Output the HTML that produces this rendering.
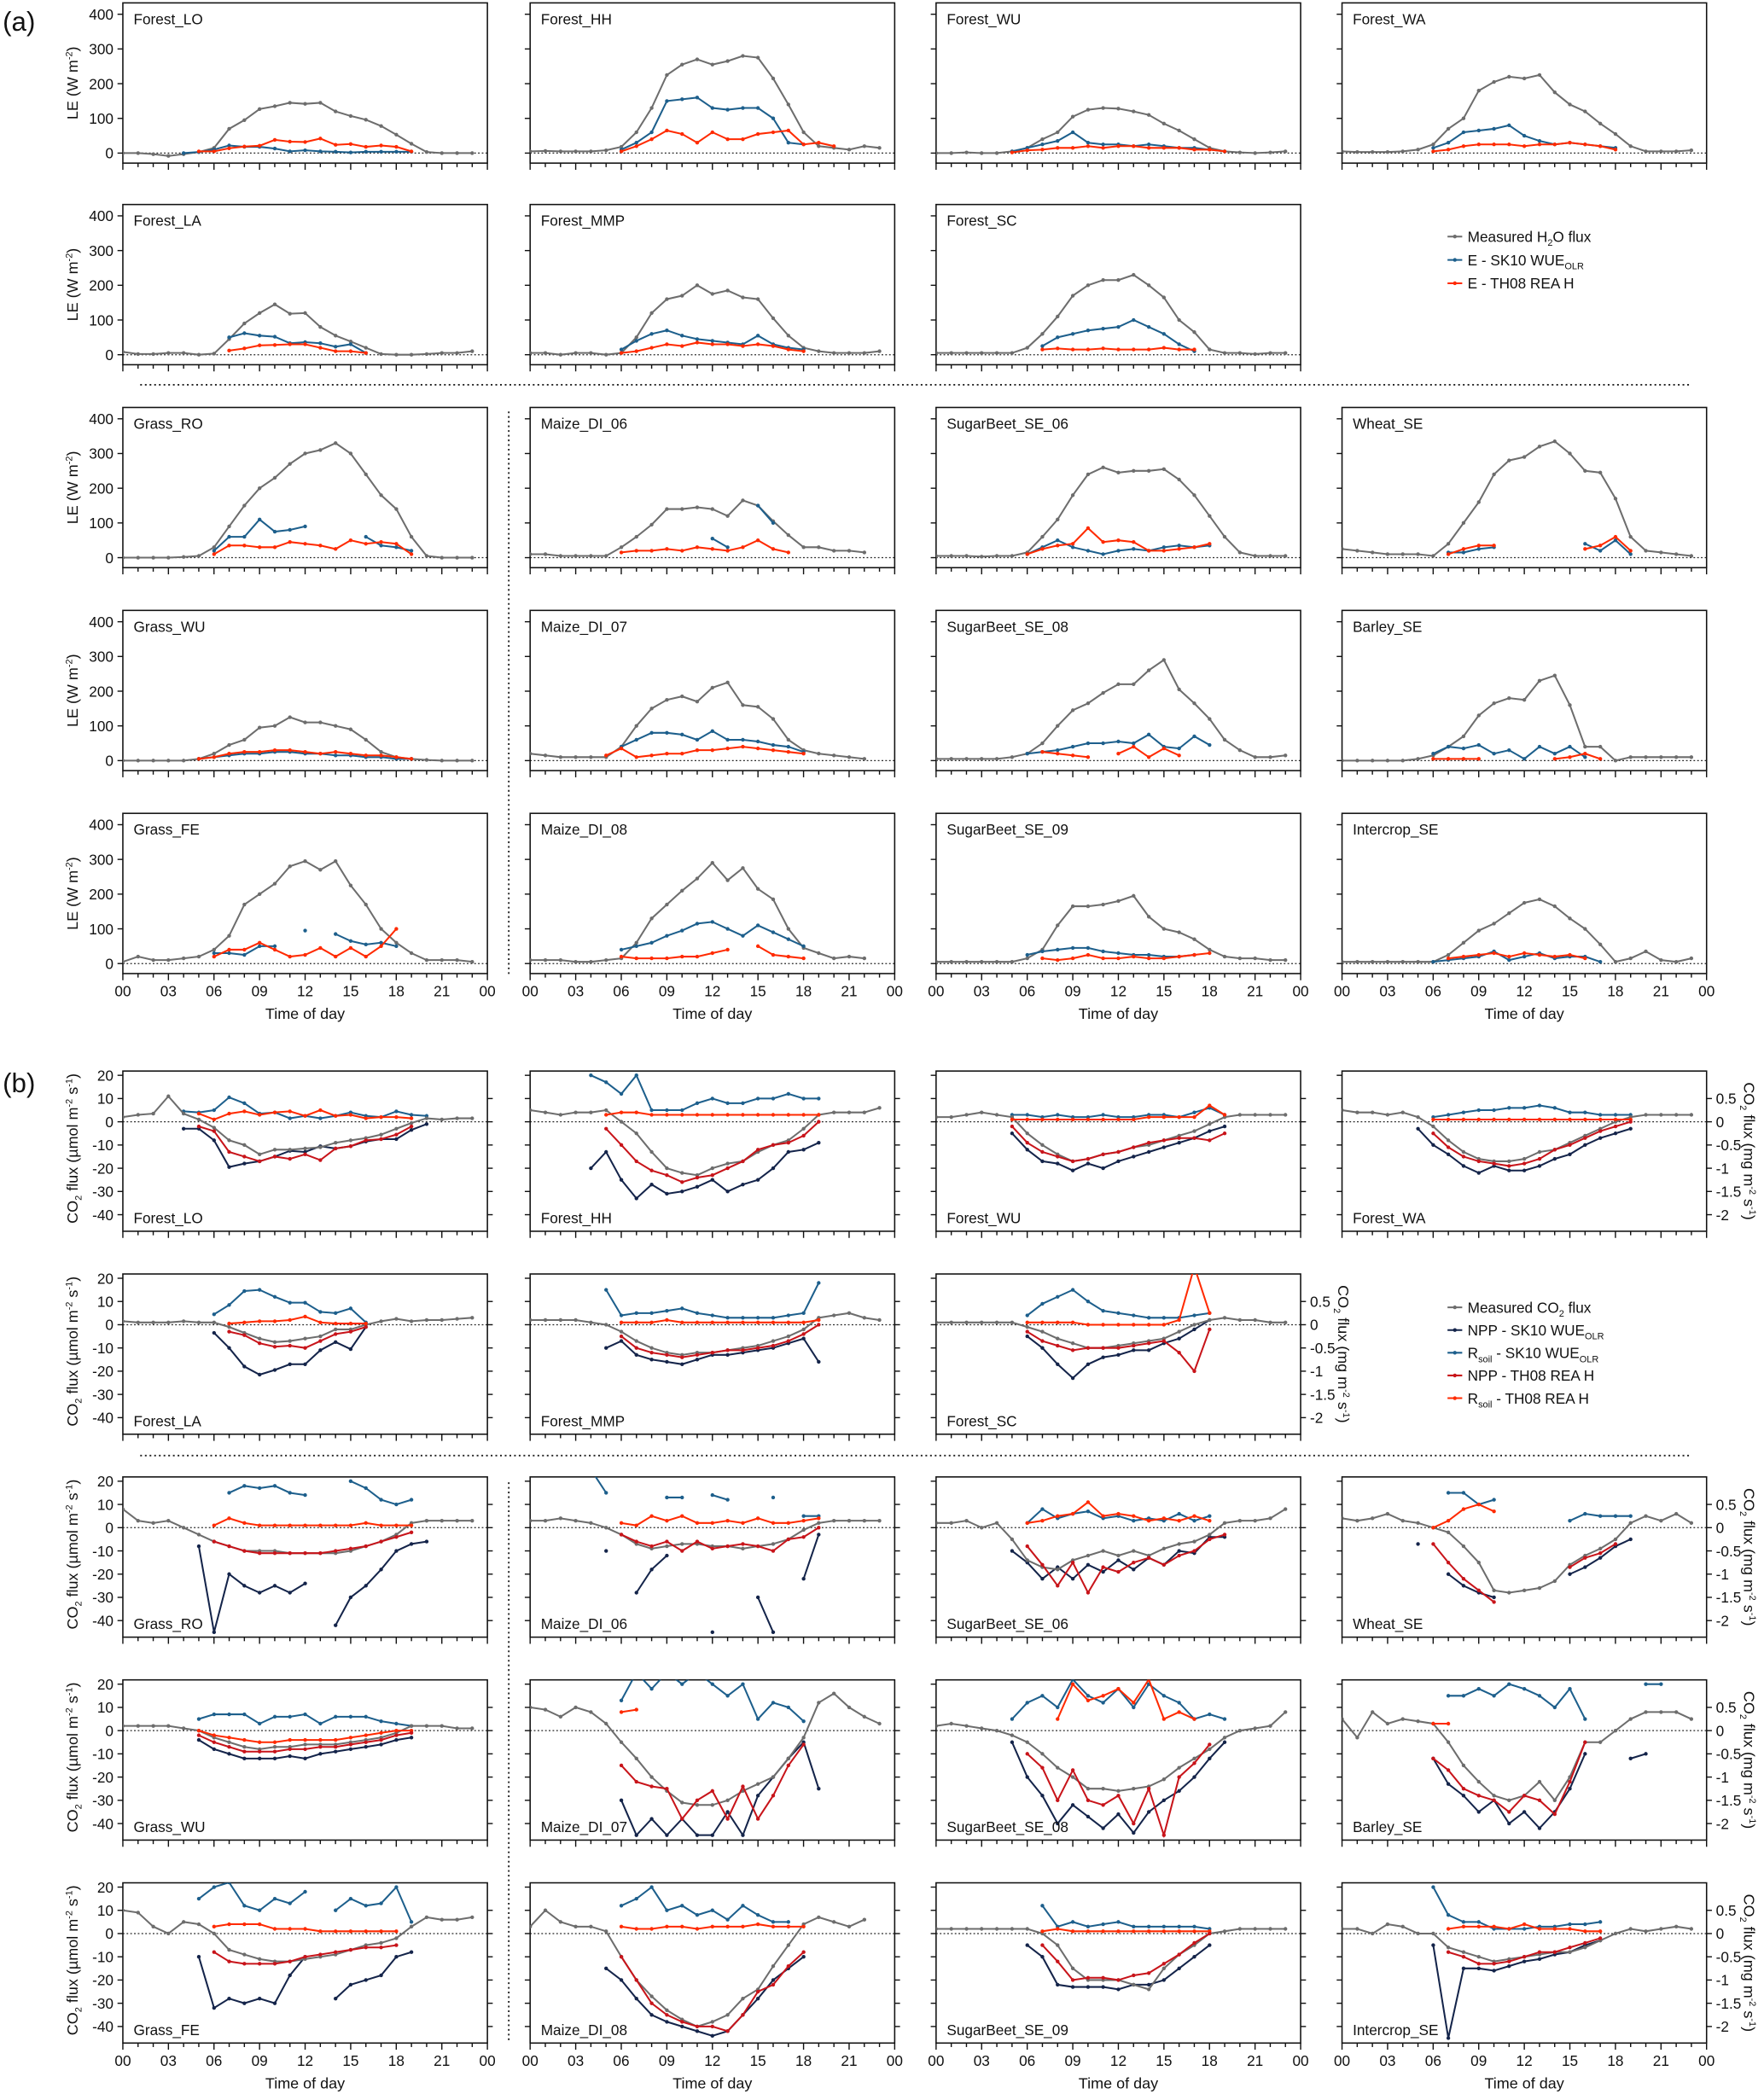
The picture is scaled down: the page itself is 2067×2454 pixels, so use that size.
<!DOCTYPE html>
<html><head><meta charset="utf-8">
<style>
html,body{margin:0;padding:0;background:#fff;}
svg{display:block;font-family:"Liberation Sans",Arial,sans-serif;}
</style></head>
<body>
<svg id="fig" xmlns="http://www.w3.org/2000/svg" width="2067" height="2454" viewBox="0 0 1321 1568">
<rect x="0" y="0" width="1321" height="1568" fill="#fff"/>
</svg>
<script>
const _ = null;
const hourTicks = ["00","03","06","09","12","15","18","21","00"];
const leTicks = [0,100,200,300,400];
const co2Ticks = [20,10,0,-10,-20,-30,-40];
const mgTicks = [0.5,0,-0.5,-1,-1.5,-2];

// ---------- (a) LE data: hourly values 00..23 ----------
const LO_a_meas=[0,0,-3,-8,-3,3,15,70,95,127,135,145,142,145,120,107,96,78,53,27,3,0,0,0];
const LO_a_sk=[_,_,_,_,0,3,10,22,18,18,13,5,8,5,4,2,4,4,4,4,_,_,_,_];
const LO_a_th=[_,_,_,_,_,5,5,14,19,21,38,33,32,42,24,26,18,22,18,5,_,_,_,_];
const HH_a_meas=[5,6,5,5,5,8,18,60,130,225,255,270,255,265,280,275,215,140,60,20,15,10,20,15];
const HH_a_sk=[_,_,_,_,_,_,10,30,60,150,155,160,130,125,130,130,100,30,25,_,_,_,_,_];
const HH_a_th=[_,_,_,_,_,_,5,20,40,65,55,30,60,40,40,55,60,65,25,30,20,_,_,_];
const WU_a_meas=[0,0,2,0,0,5,15,40,60,105,125,130,128,120,110,85,65,40,15,5,2,0,2,5];
const WU_a_sk=[_,_,_,_,_,5,15,25,35,60,30,25,25,20,25,20,15,15,10,5,_,_,_,_];
const WU_a_th=[_,_,_,_,_,2,8,10,15,15,20,15,20,20,15,15,15,10,10,5,_,_,_,_];
const WA_a_meas=[5,3,3,3,5,10,25,70,100,180,205,220,215,225,175,140,120,85,55,20,5,5,5,8];
const WA_a_sk=[_,_,_,_,_,_,15,30,60,65,70,80,50,35,25,30,25,20,15,_,_,_,_,_];
const WA_a_th=[_,_,_,_,_,_,5,10,20,25,25,25,20,25,25,30,25,20,10,_,_,_,_,_];
const LA_a_meas=[8,2,2,5,5,0,3,45,90,120,145,118,120,80,55,38,20,2,0,0,2,5,5,10];
const LA_a_sk=[_,_,_,_,_,_,_,50,62,55,52,33,36,33,23,30,5,_,_,_,_,_,_,_];
const LA_a_th=[_,_,_,_,_,_,_,12,18,27,28,30,30,20,10,10,5,_,_,_,_,_,_,_];
const MMP_a_meas=[5,5,0,5,5,0,5,50,120,160,170,200,175,185,165,160,105,55,20,10,5,5,5,10];
const MMP_a_sk=[_,_,_,_,_,_,15,40,60,70,55,45,40,35,30,55,30,20,15,_,_,_,_,_];
const MMP_a_th=[_,_,_,_,_,_,5,10,20,30,25,35,30,30,25,30,25,15,10,_,_,_,_,_];
const SC_a_meas=[5,5,5,5,5,5,20,60,110,170,200,215,215,230,200,165,100,65,15,5,5,2,5,5];
const SC_a_sk=[_,_,_,_,_,_,_,25,50,60,70,75,80,100,80,60,30,10,_,_,_,_,_,_];
const SC_a_th=[_,_,_,_,_,_,_,15,18,15,15,18,15,15,15,20,15,15,_,_,_,_,_,_];
const GRO_a_meas=[0,0,0,0,2,5,30,90,150,200,230,270,300,310,330,300,240,180,140,60,5,0,0,0];
const GRO_a_sk=[_,_,_,_,_,_,20,60,60,110,75,80,90,_,_,_,60,35,30,20,_,_,_,_];
const GRO_a_th=[_,_,_,_,_,_,10,35,35,30,30,45,40,35,25,50,40,45,40,10,_,_,_,_];
const M06_a_meas=[10,10,5,5,5,5,30,60,95,140,140,145,140,120,165,150,105,65,30,30,20,20,15,_];
const M06_a_sk=[_,_,_,_,_,_,_,_,_,_,_,_,55,30,_,150,100,_,_,_,_,_,_,_];
const M06_a_th=[_,_,_,_,_,_,15,20,20,25,20,30,25,20,30,50,25,15,_,_,_,_,_,_];
const S06_a_meas=[5,5,5,3,5,5,15,60,110,180,240,260,245,250,250,255,225,180,120,60,15,5,5,5];
const S06_a_sk=[_,_,_,_,_,_,10,30,50,30,20,10,20,25,20,30,35,30,35,_,_,_,_,_];
const S06_a_th=[_,_,_,_,_,_,10,25,35,40,85,45,50,45,20,20,25,30,40,_,_,_,_,_];
const WH_a_meas=[25,20,15,10,10,10,5,40,100,160,240,280,290,320,335,300,250,245,170,60,20,15,10,5];
const WH_a_sk=[_,_,_,_,_,_,_,15,15,25,30,_,_,_,_,_,40,20,50,10,_,_,_,_];
const WH_a_th=[_,_,_,_,_,_,_,10,25,35,35,_,_,_,_,_,25,35,60,20,_,_,_,_];
const GWU_a_meas=[0,0,0,0,0,5,20,45,60,95,100,125,110,110,100,90,60,25,10,5,2,0,0,0];
const GWU_a_sk=[_,_,_,_,_,5,10,15,20,20,25,25,20,20,15,15,10,10,5,5,_,_,_,_];
const GWU_a_th=[_,_,_,_,_,5,10,20,25,25,30,30,25,20,25,20,15,15,10,5,_,_,_,_];
const M07_a_meas=[20,15,10,10,10,10,40,100,150,175,185,170,210,225,160,155,120,60,30,20,15,10,5,_];
const M07_a_sk=[_,_,_,_,_,_,40,60,80,80,75,60,85,60,60,55,45,40,25,_,_,_,_,_];
const M07_a_th=[_,_,_,_,_,15,35,10,15,20,20,30,30,35,40,35,30,25,20,_,_,_,_,_];
const S08_a_meas=[5,5,5,5,5,10,20,50,100,145,165,195,220,220,260,290,205,165,120,60,30,10,10,15];
const S08_a_sk=[_,_,_,_,_,_,20,25,30,40,50,50,55,50,75,40,35,70,45,_,_,_,_,_];
const S08_a_th=[_,_,_,_,_,_,_,25,20,15,10,_,20,40,10,35,15,_,_,_,_,_,_,_];
const BA_a_meas=[0,0,0,0,0,5,15,40,70,130,165,180,175,230,245,160,40,40,0,10,10,10,10,10];
const BA_a_sk=[_,_,_,_,_,_,20,40,35,45,20,30,5,40,20,40,10,_,_,_,_,_,_,_];
const BA_a_th=[_,_,_,_,_,_,5,5,5,5,_,_,_,_,5,10,20,5,_,_,_,_,_,_];
const GFE_a_meas=[5,20,10,10,15,20,40,80,170,200,230,280,295,270,295,225,170,100,60,30,10,10,10,5];
const GFE_a_sk=[_,_,_,_,_,_,30,30,25,50,50,_,95,_,85,65,55,60,50,_,_,_,_,_];
const GFE_a_th=[_,_,_,_,_,_,20,40,40,60,40,20,25,45,20,45,20,50,100,_,_,_,_,_];
const M08_a_meas=[10,10,10,5,5,10,15,60,130,170,210,245,290,240,275,215,185,100,45,30,15,20,15,_];
const M08_a_sk=[_,_,_,_,_,_,40,50,60,80,95,115,120,100,80,110,90,70,50,_,_,_,_,_];
const M08_a_th=[_,_,_,_,_,_,20,15,15,15,20,20,30,40,_,50,25,20,15,_,_,_,_,_];
const S09_a_meas=[5,5,5,5,5,5,15,40,110,165,165,170,180,195,135,100,90,70,40,20,15,15,10,10];
const S09_a_sk=[_,_,_,_,_,_,25,35,40,45,45,35,30,25,25,20,20,25,_,_,_,_,_,_];
const S09_a_th=[_,_,_,_,_,_,_,15,10,15,25,15,15,20,15,15,20,25,30,_,_,_,_,_];
const IC_a_meas=[5,5,5,5,5,5,5,25,60,95,115,145,175,185,165,130,100,55,5,15,35,10,5,15];
const IC_a_sk=[_,_,_,_,_,_,5,10,15,20,35,10,20,30,15,20,20,5,_,_,_,_,_,_];
const IC_a_th=[_,_,_,_,_,_,_,15,20,25,30,20,30,25,20,25,15,_,_,_,_,_,_,_];

// ---------- (b) CO2 data (µmol m-2 s-1), hourly 00..23 ----------
const LO_b_meas=[2,3,3.5,11,3.5,1,-2.5,-8,-10,-14,-12,-12,-11.5,-11,-9,-8,-7,-5.5,-3,-0.5,1.5,1,1.5,1.5];
const LO_b_nppSK=[_,_,_,_,-3,-3,-8,-19.5,-18,-17,-15,-12.5,-13,-10.5,-11.5,-10.5,-8.5,-7.5,-7.5,-3.5,-1,_,_,_];
const LO_b_rsSK=[_,_,_,_,4.5,4,5,10.5,8,3.5,4,1.5,2.5,1.5,2.5,4,2.5,2,4.5,3,2.5,_,_,_];
const LO_b_nppTH=[_,_,_,_,_,-2,-4,-13,-15,-17,-15,-16,-14,-16.5,-11.5,-10.5,-8,-7.5,-5.5,-2,_,_,_,_];
const LO_b_rsTH=[_,_,_,_,_,3.5,1,3.5,4.5,3,4,4.5,2.5,5,2.5,3,1.5,2,2,1.5,_,_,_,_];
const HH_b_meas=[5,4,3,4,4,5,0,-5,-13,-20,-22,-23,-20,-18,-17,-13,-10,-8,-3,3,4,4,4,6];
const HH_b_nppSK=[_,_,_,_,-20,-13,-25,-33,-27,-31,-30,-28,-25,-30,-27,-25,-20,-13,-12,-9,_,_,_,_];
const HH_b_rsSK=[_,_,_,_,20,17,12,20,5,5,5,8,10,8,8,10,10,12,10,10,_,_,_,_];
const HH_b_nppTH=[_,_,_,_,_,-3,-10,-17,-21,-23,-26,-24,-23,-20,-17,-12,-10,-9,-6,0,_,_,_,_];
const HH_b_rsTH=[_,_,_,_,_,3,4,4,3,3,3,3,3,3,3,3,3,3,3,3,_,_,_,_];
const WU_b_meas=[2,2,3,4,3,2,-5,-10,-14,-17,-16,-14,-13,-11,-10,-8,-6,-4,-1,2,3,3,3,3];
const WU_b_nppSK=[_,_,_,_,_,-5,-12,-17,-18,-21,-18,-20,-17,-15,-13,-11,-9,-7,-4,-2,_,_,_,_];
const WU_b_rsSK=[_,_,_,_,_,3,3,2,3,2,2,3,2,2,3,3,2,4,6,3,_,_,_,_];
const WU_b_nppTH=[_,_,_,_,_,-2,-9,-13,-15,-17,-16,-14,-13,-11,-9,-8,-7,-7,-8,-5,_,_,_,_];
const WU_b_rsTH=[_,_,_,_,_,1,1,1,1,1,1,1,1,1,2,2,2,2,7,3,_,_,_,_];
const WA_b_meas=[5,4,4,3,4,2,-2,-8,-13,-16,-17,-17,-16,-13,-12,-9,-6,-3,0,2,3,3,3,3];
const WA_b_nppSK=[_,_,_,_,_,-3,-10,-14,-19,-22,-19,-21,-21,-19,-16,-14,-10,-7,-5,-3,_,_,_,_];
const WA_b_rsSK=[_,_,_,_,_,_,2,3,4,5,5,6,6,7,6,4,4,3,3,3,_,_,_,_];
const WA_b_nppTH=[_,_,_,_,_,_,-5,-11,-15,-17,-18,-19,-18,-16,-12,-10,-7,-4,-2,0,_,_,_,_];
const WA_b_rsTH=[_,_,_,_,_,_,1,1,1,1,1,1,1,1,1,1,1,1,1,1,_,_,_,_];
const LA_b_meas=[1.5,1,1,1,1.5,1,1,-1,-3.5,-6,-7.5,-7,-6,-5,-2,-2,0,1.5,2.5,1.5,2,2,2.5,3];
const LA_b_nppSK=[_,_,_,_,_,_,-3.5,-10,-18,-21.5,-19.5,-17,-17,-11,-7.5,-10.5,-1,_,_,_,_,_,_,_];
const LA_b_rsSK=[_,_,_,_,_,_,4.5,8.5,14.5,15,12,9.5,9.5,5.5,5,7,1,_,_,_,_,_,_,_];
const LA_b_nppTH=[_,_,_,_,_,_,_,-3,-4.5,-8,-9.5,-9,-10,-7,-4,-3,-1,_,_,_,_,_,_,_];
const LA_b_rsTH=[_,_,_,_,_,_,_,0.5,1,1.5,1.5,2,3.5,1,0.5,0.5,0.5,_,_,_,_,_,_,_];
const MMP_b_meas=[2,2,2,2,1,0,-3,-7,-10,-12,-13,-12,-12,-11,-10,-9,-7,-5,-2,3,4,5,3,2];
const MMP_b_nppSK=[_,_,_,_,_,-10,-7,-13,-15,-16,-17,-15,-13,-13,-12,-11,-10,-8,-6,-16,_,_,_,_];
const MMP_b_rsSK=[_,_,_,_,_,15,4,5,5,6,7,5,4,3,3,3,3,4,5,18,_,_,_,_];
const MMP_b_nppTH=[_,_,_,_,_,_,-5,-10,-12,-13,-14,-13,-12,-11,-11,-10,-9,-7,-4,0,_,_,_,_];
const MMP_b_rsTH=[_,_,_,_,_,_,1,1,1,2,1,1,1,1,1,1,1,1,1,2,_,_,_,_];
const SC_b_meas=[1,1,1,1,1,1,-1,-3,-6,-8,-10,-10,-9,-8,-7,-6,-3,0,2,3,2,2,1,1];
const SC_b_nppSK=[_,_,_,_,_,_,-5,-10,-17,-23,-17,-14,-13,-11,-11,-8,-6,-2,2,_,_,_,_,_];
const SC_b_rsSK=[_,_,_,_,_,_,4,9,12,15,10,6,5,4,3,3,3,4,5,_,_,_,_,_];
const SC_b_nppTH=[_,_,_,_,_,_,-3,-7,-9,-11,-10,-10,-10,-9,-8,-7,-12,-20,-2,_,_,_,_,_];
const SC_b_rsTH=[_,_,_,_,_,_,1,1,1,1,0,0,0,0,0,0,2,25,5,_,_,_,_,_];
const GRO_b_meas=[8,3,2,3,0,-3,-6,-8,-10,-10,-10,-11,-11,-11,-11,-10,-8,-6,-3,2,3,3,3,3];
const GRO_b_nppSK=[_,_,_,_,_,-8,-45,-20,-25,-28,-25,-28,-24,_,-42,-30,-25,-18,-10,-7,-6,_,_,_];
const GRO_b_rsSK=[_,_,_,_,_,28,_,15,18,17,18,15,14,_,_,20,17,12,10,12,_,_,_,_];
const GRO_b_nppTH=[_,_,_,_,_,_,-6,-8,-10,-11,-11,-11,-11,-11,-10,-9,-8,-6,-4,-2,_,_,_,_];
const GRO_b_rsTH=[_,_,_,_,_,_,1,4,2,1,1,1,1,1,1,1,2,1,1,1,_,_,_,_];
const M06_b_meas=[3,3,4,3,2,0,-3,-7,-9,-8,-7,-7,-8,-8,-9,-8,-7,-5,-1,2,3,3,3,3];
const M06_b_nppSK=[_,_,_,_,_,-10,_,-28,-18,-12,_,_,-45,_,_,-30,-45,_,-22,-3,_,_,_,_];
const M06_b_rsSK=[_,_,_,_,25,15,_,_,_,13,13,_,14,12,_,_,13,_,5,5,_,_,_,_];
const M06_b_nppTH=[_,_,_,_,_,_,-3,-6,-8,-6,-10,-6,-9,-8,-7,-8,-10,-5,-4,0,_,_,_,_];
const M06_b_rsTH=[_,_,_,_,_,_,2,1,5,3,5,2,2,3,2,4,2,2,3,4,_,_,_,_];
const S06_b_meas=[2,2,3,0,2,-5,-14,-17,-18,-14,-12,-10,-12,-10,-12,-9,-7,-6,-3,2,3,3,4,8];
const S06_b_nppSK=[_,_,_,_,_,-10,-15,-22,-17,-22,-16,-19,-14,-18,-13,-16,-10,-11,-4,-4,_,_,_,_];
const S06_b_rsSK=[_,_,_,_,_,_,2,8,4,6,7,4,5,3,4,3,6,3,5,_,_,_,_,_];
const S06_b_nppTH=[_,_,_,_,_,_,-8,-16,-25,-15,-28,-17,-19,-15,-13,-16,-12,-10,-5,-3,_,_,_,_];
const S06_b_rsTH=[_,_,_,_,_,_,2,3,5,6,11,5,6,5,3,4,3,5,3,_,_,_,_,_];
const WH_b_meas=[4,3,4,6,3,2,0,-2,-8,-15,-27,-28,-27,-26,-23,-16,-12,-9,-5,2,5,3,6,2];
const WH_b_nppSK=[_,_,_,_,_,-7,_,-20,-25,-28,-30,_,_,_,_,-20,-17,-13,-8,-5,_,_,_,_];
const WH_b_rsSK=[_,_,_,_,_,_,_,15,15,10,12,_,_,_,_,3,6,5,5,5,_,_,_,_];
const WH_b_nppTH=[_,_,_,_,_,_,-7,-15,-22,-27,-32,_,_,_,_,-17,-13,-11,-7,_,_,_,_,_];
const WH_b_rsTH=[_,_,_,_,_,_,0,3,8,10,7,_,_,_,_,_,_,_,_,_,_,_,_,_];
const GWU_b_meas=[2,2,2,2,1,0,-3,-5,-7,-8,-7,-7,-6,-6,-6,-5,-4,-3,-1,2,2,2,1,1];
const GWU_b_nppSK=[_,_,_,_,_,-4,-8,-10,-12,-12,-12,-11,-12,-10,-9,-8,-7,-6,-4,-3,_,_,_,_];
const GWU_b_rsSK=[_,_,_,_,_,5,7,7,7,3,6,6,7,3,6,6,6,4,3,2,_,_,_,_];
const GWU_b_nppTH=[_,_,_,_,_,-2,-5,-7,-9,-9,-9,-8,-8,-7,-7,-6,-5,-4,-2,-1,_,_,_,_];
const GWU_b_rsTH=[_,_,_,_,_,0,-2,-3,-4,-5,-5,-4,-4,-4,-4,-3,-2,-1,0,0,_,_,_,_];
const M07_b_meas=[10,9,6,10,8,3,-5,-12,-20,-26,-31,-32,-32,-30,-26,-23,-20,-12,-3,12,16,10,6,3];
const M07_b_nppSK=[_,_,_,_,_,_,-30,-45,-38,-45,-38,-45,-45,-35,-45,-28,-20,-12,-5,-25,_,_,_,_];
const M07_b_rsSK=[_,_,_,_,_,_,13,25,18,25,20,25,20,15,20,5,12,10,4,_,_,_,_,_];
const M07_b_nppTH=[_,_,_,_,_,_,-15,-22,-24,-25,-38,-30,-26,-38,-24,-38,-28,-15,-6,_,_,_,_,_];
const M07_b_rsTH=[_,_,_,_,_,_,8,9,_,_,_,_,_,_,_,_,_,_,_,_,_,_,_,_];
const S08_b_meas=[2,3,2,1,0,-2,-5,-10,-16,-20,-25,-25,-26,-25,-24,-21,-16,-12,-8,-3,0,1,2,8];
const S08_b_nppSK=[_,_,_,_,_,-5,-20,-28,-40,-32,-37,-42,-36,-44,-35,-30,-26,-20,-12,-5,_,_,_,_];
const S08_b_rsSK=[_,_,_,_,_,5,12,15,10,22,15,12,18,10,20,15,12,5,7,5,_,_,_,_];
const S08_b_nppTH=[_,_,_,_,_,_,-10,-16,-30,-17,-30,-32,-28,-40,-25,-45,-20,-14,-6,_,_,_,_,_];
const S08_b_rsTH=[_,_,_,_,_,_,_,_,5,20,13,15,18,12,22,5,8,5,_,_,_,_,_,_];
const BA_b_meas=[5,-3,8,3,5,4,3,-5,-15,-22,-28,-30,-28,-22,-30,-20,-5,-5,0,5,8,8,8,5];
const BA_b_nppSK=[_,_,_,_,_,_,-12,-23,-28,-35,-30,-40,-35,-42,-35,-25,-10,_,_,-12,-10,_,_,_];
const BA_b_rsSK=[_,_,_,_,_,_,_,15,15,18,15,20,18,15,10,18,5,_,_,_,20,20,_,_];
const BA_b_nppTH=[_,_,_,_,_,_,-12,-17,-25,-28,-30,-35,-28,-30,-36,-22,-5,_,_,_,_,_,_,_];
const BA_b_rsTH=[_,_,_,_,_,_,3,3,_,_,_,_,_,_,_,_,_,_,_,_,_,_,_,_];
const GFE_b_meas=[10,9,3,0,5,4,0,-7,-9,-11,-12,-12,-11,-10,-9,-7,-5,-4,-2,3,7,6,6,7];
const GFE_b_nppSK=[_,_,_,_,_,-10,-32,-28,-30,-28,-30,-18,-10,_,-28,-22,-20,-18,-10,-8,_,_,_,_];
const GFE_b_rsSK=[_,_,_,_,_,15,20,22,12,10,15,13,18,_,10,15,12,13,20,5,_,_,_,_];
const GFE_b_nppTH=[_,_,_,_,_,_,-8,-12,-13,-13,-13,-12,-10,-9,-8,-7,-6,-6,-5,_,_,_,_,_];
const GFE_b_rsTH=[_,_,_,_,_,_,3,4,4,4,2,2,2,1,1,1,1,1,1,_,_,_,_,_];
const M08_b_meas=[3,10,5,3,3,1,-10,-20,-27,-33,-37,-40,-38,-35,-28,-24,-14,-5,4,7,5,3,6,_];
const M08_b_nppSK=[_,_,_,_,_,-15,-20,-28,-35,-38,-40,-42,-44,-42,-35,-28,-20,-15,-10,_,_,_,_,_];
const M08_b_rsSK=[_,_,_,_,_,_,12,15,20,10,12,8,10,6,12,8,5,5,_,_,_,_,_,_];
const M08_b_nppTH=[_,_,_,_,_,_,-10,-20,-30,-35,-38,-40,-40,-42,-35,-25,-22,-14,-8,_,_,_,_,_];
const M08_b_rsTH=[_,_,_,_,_,_,3,2,2,3,3,2,3,3,3,4,3,3,3,_,_,_,_,_];
const S09_b_meas=[2,2,2,2,2,2,2,0,-5,-15,-20,-20,-20,-22,-24,-15,-9,-5,0,1,2,2,2,2];
const S09_b_nppSK=[_,_,_,_,_,_,-5,-10,-22,-23,-23,-23,-24,-22,-22,-20,-15,-10,-5,_,_,_,_,_];
const S09_b_rsSK=[_,_,_,_,_,_,_,12,3,5,3,4,5,3,3,3,3,3,2,_,_,_,_,_];
const S09_b_nppTH=[_,_,_,_,_,_,_,-5,-12,-20,-19,-19,-20,-18,-17,-13,-9,-4,0,_,_,_,_,_];
const S09_b_rsTH=[_,_,_,_,_,_,_,1,2,1,1,1,1,1,1,1,1,1,1,_,_,_,_,_];
const IC_b_meas=[2,2,0,4,3,0,0,-6,-8,-10,-12,-11,-10,-9,-8,-8,-6,-3,0,2,1,2,3,2];
const IC_b_nppSK=[_,_,_,_,_,_,-5,-45,-15,-15,-16,-14,-12,-11,-9,-8,-5,-3,_,_,_,_,_,_];
const IC_b_rsSK=[_,_,_,_,_,_,20,8,5,5,2,2,2,3,3,4,4,5,_,_,_,_,_,_];
const IC_b_nppTH=[_,_,_,_,_,_,_,-8,-10,-13,-13,-12,-10,-8,-8,-6,-4,-2,_,_,_,_,_,_];
const IC_b_rsTH=[_,_,_,_,_,_,_,2,3,3,3,2,4,2,2,2,1,1,_,_,_,_,_,_];

const svg = document.getElementById('fig');
const NS = 'http://www.w3.org/2000/svg';
const COLX = [92,397,701,1005], PW = 273, PH = 120;
const TOPA = [2,153,305,457,609], TOPB = [802,954,1106,1258,1410];
const C_MEAS='#6d6d6d', C_SK='#1d5f8c', C_TH='#ff2a00', C_NPPSK='#14244a', C_NPPTH='#c8141a';

function mk(tag, attrs, parent){
  const e = document.createElementNS(NS, tag);
  for (const k in attrs) e.setAttribute(k, attrs[k]);
  (parent||svg).appendChild(e);
  return e;
}
function txt(x,y,s,size,anchor,parent){
  const t = mk('text',{x:x,y:y,'font-size':size,'text-anchor':anchor||'start',fill:'#111'},parent);
  t.innerHTML = s;
  return t;
}
function xOf(x0,h){ return x0 + h/24*PW; }

let clipId = 0;
function drawSeries(g, x0, yf, vals, color, name){
  const sg = mk('g',{},g);
  
  
  let seg = [];
  const flush = ()=>{
    if (seg.length>1){
      const p = mk('polyline',{points:seg.map(q=>q.join(',')).join(' '),fill:'none',stroke:color,'stroke-width':1.3},sg);
      
      
    }
    seg = [];
  };
  vals.forEach((v,h)=>{
    if (v===null){ flush(); return; }
    const X = xOf(x0,h), Y = yf(v);
    seg.push([X.toFixed(1),Y.toFixed(1)]);
    const c = mk('circle',{cx:X.toFixed(1),cy:Y.toFixed(1),r:1.4,fill:color},sg);
    
    
  });
  flush();
}

function panelFrame(x0, top, name, slug){
  const g = mk('g',{});
  
  
  const r = mk('rect',{x:x0,y:top,width:PW,height:PH,fill:'none',stroke:'#111','stroke-width':1},g);
  
  
  for (let h=0; h<=24; h++){
    const X = xOf(x0,h), L = (h%3===0)?5:3;
    const t = mk('line',{x1:X,y1:top+PH,x2:X,y2:top+PH+L,stroke:'#111','stroke-width':0.9},g);
    
    
  }
  clipId++;
  const cp = mk('clipPath',{id:'c'+clipId},g);
  mk('rect',{x:x0,y:top,width:PW,height:PH},cp);
  const inner = mk('g',{'clip-path':'url(#c'+clipId+')'},g);
  return {g:g, inner:inner};
}

function xLabels(x0, top, g){
  hourTicks.forEach((s,i)=>{
    const t = txt(xOf(x0,i*3), top+PH+17, s, 11, 'middle', g);
    
    
  });
  const t = txt(x0+PW/2, top+PH+34, 'Time of day', 11.5, 'middle', g);
  
  
}

const panelsA = [
  [0,0,'Forest_LO',LO_a_meas,LO_a_sk,LO_a_th],[0,1,'Forest_HH',HH_a_meas,HH_a_sk,HH_a_th],
  [0,2,'Forest_WU',WU_a_meas,WU_a_sk,WU_a_th],[0,3,'Forest_WA',WA_a_meas,WA_a_sk,WA_a_th],
  [1,0,'Forest_LA',LA_a_meas,LA_a_sk,LA_a_th],[1,1,'Forest_MMP',MMP_a_meas,MMP_a_sk,MMP_a_th],
  [1,2,'Forest_SC',SC_a_meas,SC_a_sk,SC_a_th],
  [2,0,'Grass_RO',GRO_a_meas,GRO_a_sk,GRO_a_th],[2,1,'Maize_DI_06',M06_a_meas,M06_a_sk,M06_a_th],
  [2,2,'SugarBeet_SE_06',S06_a_meas,S06_a_sk,S06_a_th],[2,3,'Wheat_SE',WH_a_meas,WH_a_sk,WH_a_th],
  [3,0,'Grass_WU',GWU_a_meas,GWU_a_sk,GWU_a_th],[3,1,'Maize_DI_07',M07_a_meas,M07_a_sk,M07_a_th],
  [3,2,'SugarBeet_SE_08',S08_a_meas,S08_a_sk,S08_a_th],[3,3,'Barley_SE',BA_a_meas,BA_a_sk,BA_a_th],
  [4,0,'Grass_FE',GFE_a_meas,GFE_a_sk,GFE_a_th],[4,1,'Maize_DI_08',M08_a_meas,M08_a_sk,M08_a_th],
  [4,2,'SugarBeet_SE_09',S09_a_meas,S09_a_sk,S09_a_th],[4,3,'Intercrop_SE',IC_a_meas,IC_a_sk,IC_a_th]
];
panelsA.forEach(p=>{
  const [row,col,name,meas,sk,th] = p;
  const x0 = COLX[col], top = TOPA[row];
  const slug = name.toLowerCase().replace(/_/g,'-')+'-le';
  const yf = v => top + 112.5 - v*0.26;
  const f = panelFrame(x0, top, name, slug);
  leTicks.forEach(v=>{
    const t = mk('line',{x1:x0-4,y1:yf(v),x2:x0,y2:yf(v),stroke:'#111','stroke-width':0.9},f.g);
    
    
    if (col===0){
      const l = txt(x0-7, yf(v)+4, String(v), 11, 'end', f.g);
      
      
    }
  });
  if (col===0){
    const yt = txt(0,0,'LE (W m<tspan font-size="7" dy="-4">-2</tspan><tspan dy="4">)</tspan>',11.5,'middle',f.g);
    yt.setAttribute('transform','translate(58,'+(top+60)+') rotate(-90)');
    
    
  }
  const z = mk('line',{x1:x0,y1:yf(0),x2:x0+PW,y2:yf(0),stroke:'#222','stroke-width':0.8,'stroke-dasharray':'1.2,1.6'},f.inner);
  
  
  drawSeries(f.inner, x0, yf, meas, C_MEAS, slug+'-measured');
  drawSeries(f.inner, x0, yf, sk, C_SK, slug+'-sk10');
  drawSeries(f.inner, x0, yf, th, C_TH, slug+'-th08');
  const lab = txt(x0+8, top+16, name, 11, 'start', f.g);
  
  
  if (row===4) xLabels(x0, top, f.g);
});

const panelsB = [
  [0,0,'Forest_LO',LO_b_meas,LO_b_nppSK,LO_b_rsSK,LO_b_nppTH,LO_b_rsTH],
  [0,1,'Forest_HH',HH_b_meas,HH_b_nppSK,HH_b_rsSK,HH_b_nppTH,HH_b_rsTH],
  [0,2,'Forest_WU',WU_b_meas,WU_b_nppSK,WU_b_rsSK,WU_b_nppTH,WU_b_rsTH],
  [0,3,'Forest_WA',WA_b_meas,WA_b_nppSK,WA_b_rsSK,WA_b_nppTH,WA_b_rsTH],
  [1,0,'Forest_LA',LA_b_meas,LA_b_nppSK,LA_b_rsSK,LA_b_nppTH,LA_b_rsTH],
  [1,1,'Forest_MMP',MMP_b_meas,MMP_b_nppSK,MMP_b_rsSK,MMP_b_nppTH,MMP_b_rsTH],
  [1,2,'Forest_SC',SC_b_meas,SC_b_nppSK,SC_b_rsSK,SC_b_nppTH,SC_b_rsTH],
  [2,0,'Grass_RO',GRO_b_meas,GRO_b_nppSK,GRO_b_rsSK,GRO_b_nppTH,GRO_b_rsTH],
  [2,1,'Maize_DI_06',M06_b_meas,M06_b_nppSK,M06_b_rsSK,M06_b_nppTH,M06_b_rsTH],
  [2,2,'SugarBeet_SE_06',S06_b_meas,S06_b_nppSK,S06_b_rsSK,S06_b_nppTH,S06_b_rsTH],
  [2,3,'Wheat_SE',WH_b_meas,WH_b_nppSK,WH_b_rsSK,WH_b_nppTH,WH_b_rsTH],
  [3,0,'Grass_WU',GWU_b_meas,GWU_b_nppSK,GWU_b_rsSK,GWU_b_nppTH,GWU_b_rsTH],
  [3,1,'Maize_DI_07',M07_b_meas,M07_b_nppSK,M07_b_rsSK,M07_b_nppTH,M07_b_rsTH],
  [3,2,'SugarBeet_SE_08',S08_b_meas,S08_b_nppSK,S08_b_rsSK,S08_b_nppTH,S08_b_rsTH],
  [3,3,'Barley_SE',BA_b_meas,BA_b_nppSK,BA_b_rsSK,BA_b_nppTH,BA_b_rsTH],
  [4,0,'Grass_FE',GFE_b_meas,GFE_b_nppSK,GFE_b_rsSK,GFE_b_nppTH,GFE_b_rsTH],
  [4,1,'Maize_DI_08',M08_b_meas,M08_b_nppSK,M08_b_rsSK,M08_b_nppTH,M08_b_rsTH],
  [4,2,'SugarBeet_SE_09',S09_b_meas,S09_b_nppSK,S09_b_rsSK,S09_b_nppTH,S09_b_rsTH],
  [4,3,'Intercrop_SE',IC_b_meas,IC_b_nppSK,IC_b_rsSK,IC_b_nppTH,IC_b_rsTH]
];
panelsB.forEach(p=>{
  const [row,col,name,meas,nsk,rsk,nth,rth] = p;
  const x0 = COLX[col], top = TOPB[row];
  const slug = name.toLowerCase().replace(/_/g,'-')+'-co2';
  const yf = v => top + 38 - v*1.74;
  const ym = m => top + 38 - m*20*1.74;
  const f = panelFrame(x0, top, name, slug);
  co2Ticks.forEach(v=>{
    const t = mk('line',{x1:x0-4,y1:yf(v),x2:x0,y2:yf(v),stroke:'#111','stroke-width':0.9},f.g);
    
    
    if (col===0){
      const l = txt(x0-7, yf(v)+4, String(v), 11, 'end', f.g);
      
      
    }
  });
  const hasRight = (col===3) || (row===1 && col===2);
  mgTicks.forEach(m=>{
    const t = mk('line',{x1:x0+PW,y1:ym(m),x2:x0+PW+4,y2:ym(m),stroke:'#111','stroke-width':0.9},f.g);
    
    
    if (hasRight){
      const l = txt(x0+PW+7, ym(m)+4, String(m), 11, 'start', f.g);
      
      
    }
  });
  if (col===0){
    const yt = txt(0,0,'CO<tspan font-size="7" dy="3">2</tspan><tspan dy="-3"> flux (µmol m</tspan><tspan font-size="7" dy="-4">-2</tspan><tspan dy="4"> s</tspan><tspan font-size="7" dy="-4">-1</tspan><tspan dy="4">)</tspan>',11.5,'middle',f.g);
    yt.setAttribute('transform','translate(58,'+(top+58)+') rotate(-90)');
    
    
  }
  if (hasRight){
    const rx = x0+PW+28;
    const yt = txt(0,0,'CO<tspan font-size="7" dy="3">2</tspan><tspan dy="-3"> flux (mg m</tspan><tspan font-size="7" dy="-4">-2</tspan><tspan dy="4"> s</tspan><tspan font-size="7" dy="-4">-1</tspan><tspan dy="4">)</tspan>',11.5,'middle',f.g);
    yt.setAttribute('transform','translate('+rx+','+(top+60)+') rotate(90)');
    
    
  }
  const z = mk('line',{x1:x0,y1:yf(0),x2:x0+PW,y2:yf(0),stroke:'#222','stroke-width':0.8,'stroke-dasharray':'1.2,1.6'},f.inner);
  
  
  drawSeries(f.inner, x0, yf, rsk, C_SK, slug+'-rsoil-sk10');
  drawSeries(f.inner, x0, yf, nsk, C_NPPSK, slug+'-npp-sk10');
  drawSeries(f.inner, x0, yf, meas, C_MEAS, slug+'-measured');
  drawSeries(f.inner, x0, yf, rth, C_TH, slug+'-rsoil-th08');
  drawSeries(f.inner, x0, yf, nth, C_NPPTH, slug+'-npp-th08');
  const lab = txt(x0+8, top+114, name, 11, 'start', f.g);
  
  
  if (row===4) xLabels(x0, top, f.g);
});

const pa = txt(2, 23, '(a)', 20, 'start');


const pb = txt(2, 818, '(b)', 20, 'start');



const seps = [[105,288,1265,288],[381,308,381,730],[105,1090,1265,1090],[381,1110,381,1530]];
seps.forEach(s=>{
  const l = mk('line',{x1:s[0],y1:s[1],x2:s[2],y2:s[3],stroke:'#222','stroke-width':1.2,'stroke-dasharray':'1.3,2.2'});
  
  
});

function legend(x, y0, dy, items, nm){
  const g = mk('g',{});
  
  
  items.forEach((it,i)=>{
    const y = y0 + i*dy;
    const e = mk('g',{},g);
    
    
    mk('line',{x1:x,y1:y,x2:x+11,y2:y,stroke:it[0],'stroke-width':1.3},e);
    mk('circle',{cx:x+5.5,cy:y,r:1.4,fill:it[0]},e);
    txt(x+15, y+4, it[1], 11, 'start', e);
  });
}
legend(1084, 177, 17.5, [
  [C_MEAS,'Measured H<tspan font-size="7" dy="3">2</tspan><tspan dy="-3">O flux</tspan>'],
  [C_SK,'E - SK10 WUE<tspan font-size="7" dy="3">OLR</tspan>'],
  [C_TH,'E - TH08 REA H']
], 'legend-le');
legend(1084, 979, 17, [
  [C_MEAS,'Measured CO<tspan font-size="7" dy="3">2</tspan><tspan dy="-3"> flux</tspan>'],
  [C_NPPSK,'NPP - SK10 WUE<tspan font-size="7" dy="3">OLR</tspan>'],
  [C_SK,'R<tspan font-size="7" dy="3">soil</tspan><tspan dy="-3"> - SK10 WUE</tspan><tspan font-size="7" dy="3">OLR</tspan>'],
  [C_NPPTH,'NPP - TH08 REA H'],
  [C_TH,'R<tspan font-size="7" dy="3">soil</tspan><tspan dy="-3"> - TH08 REA H</tspan>']
], 'legend-co2');
</script>
</body></html>
